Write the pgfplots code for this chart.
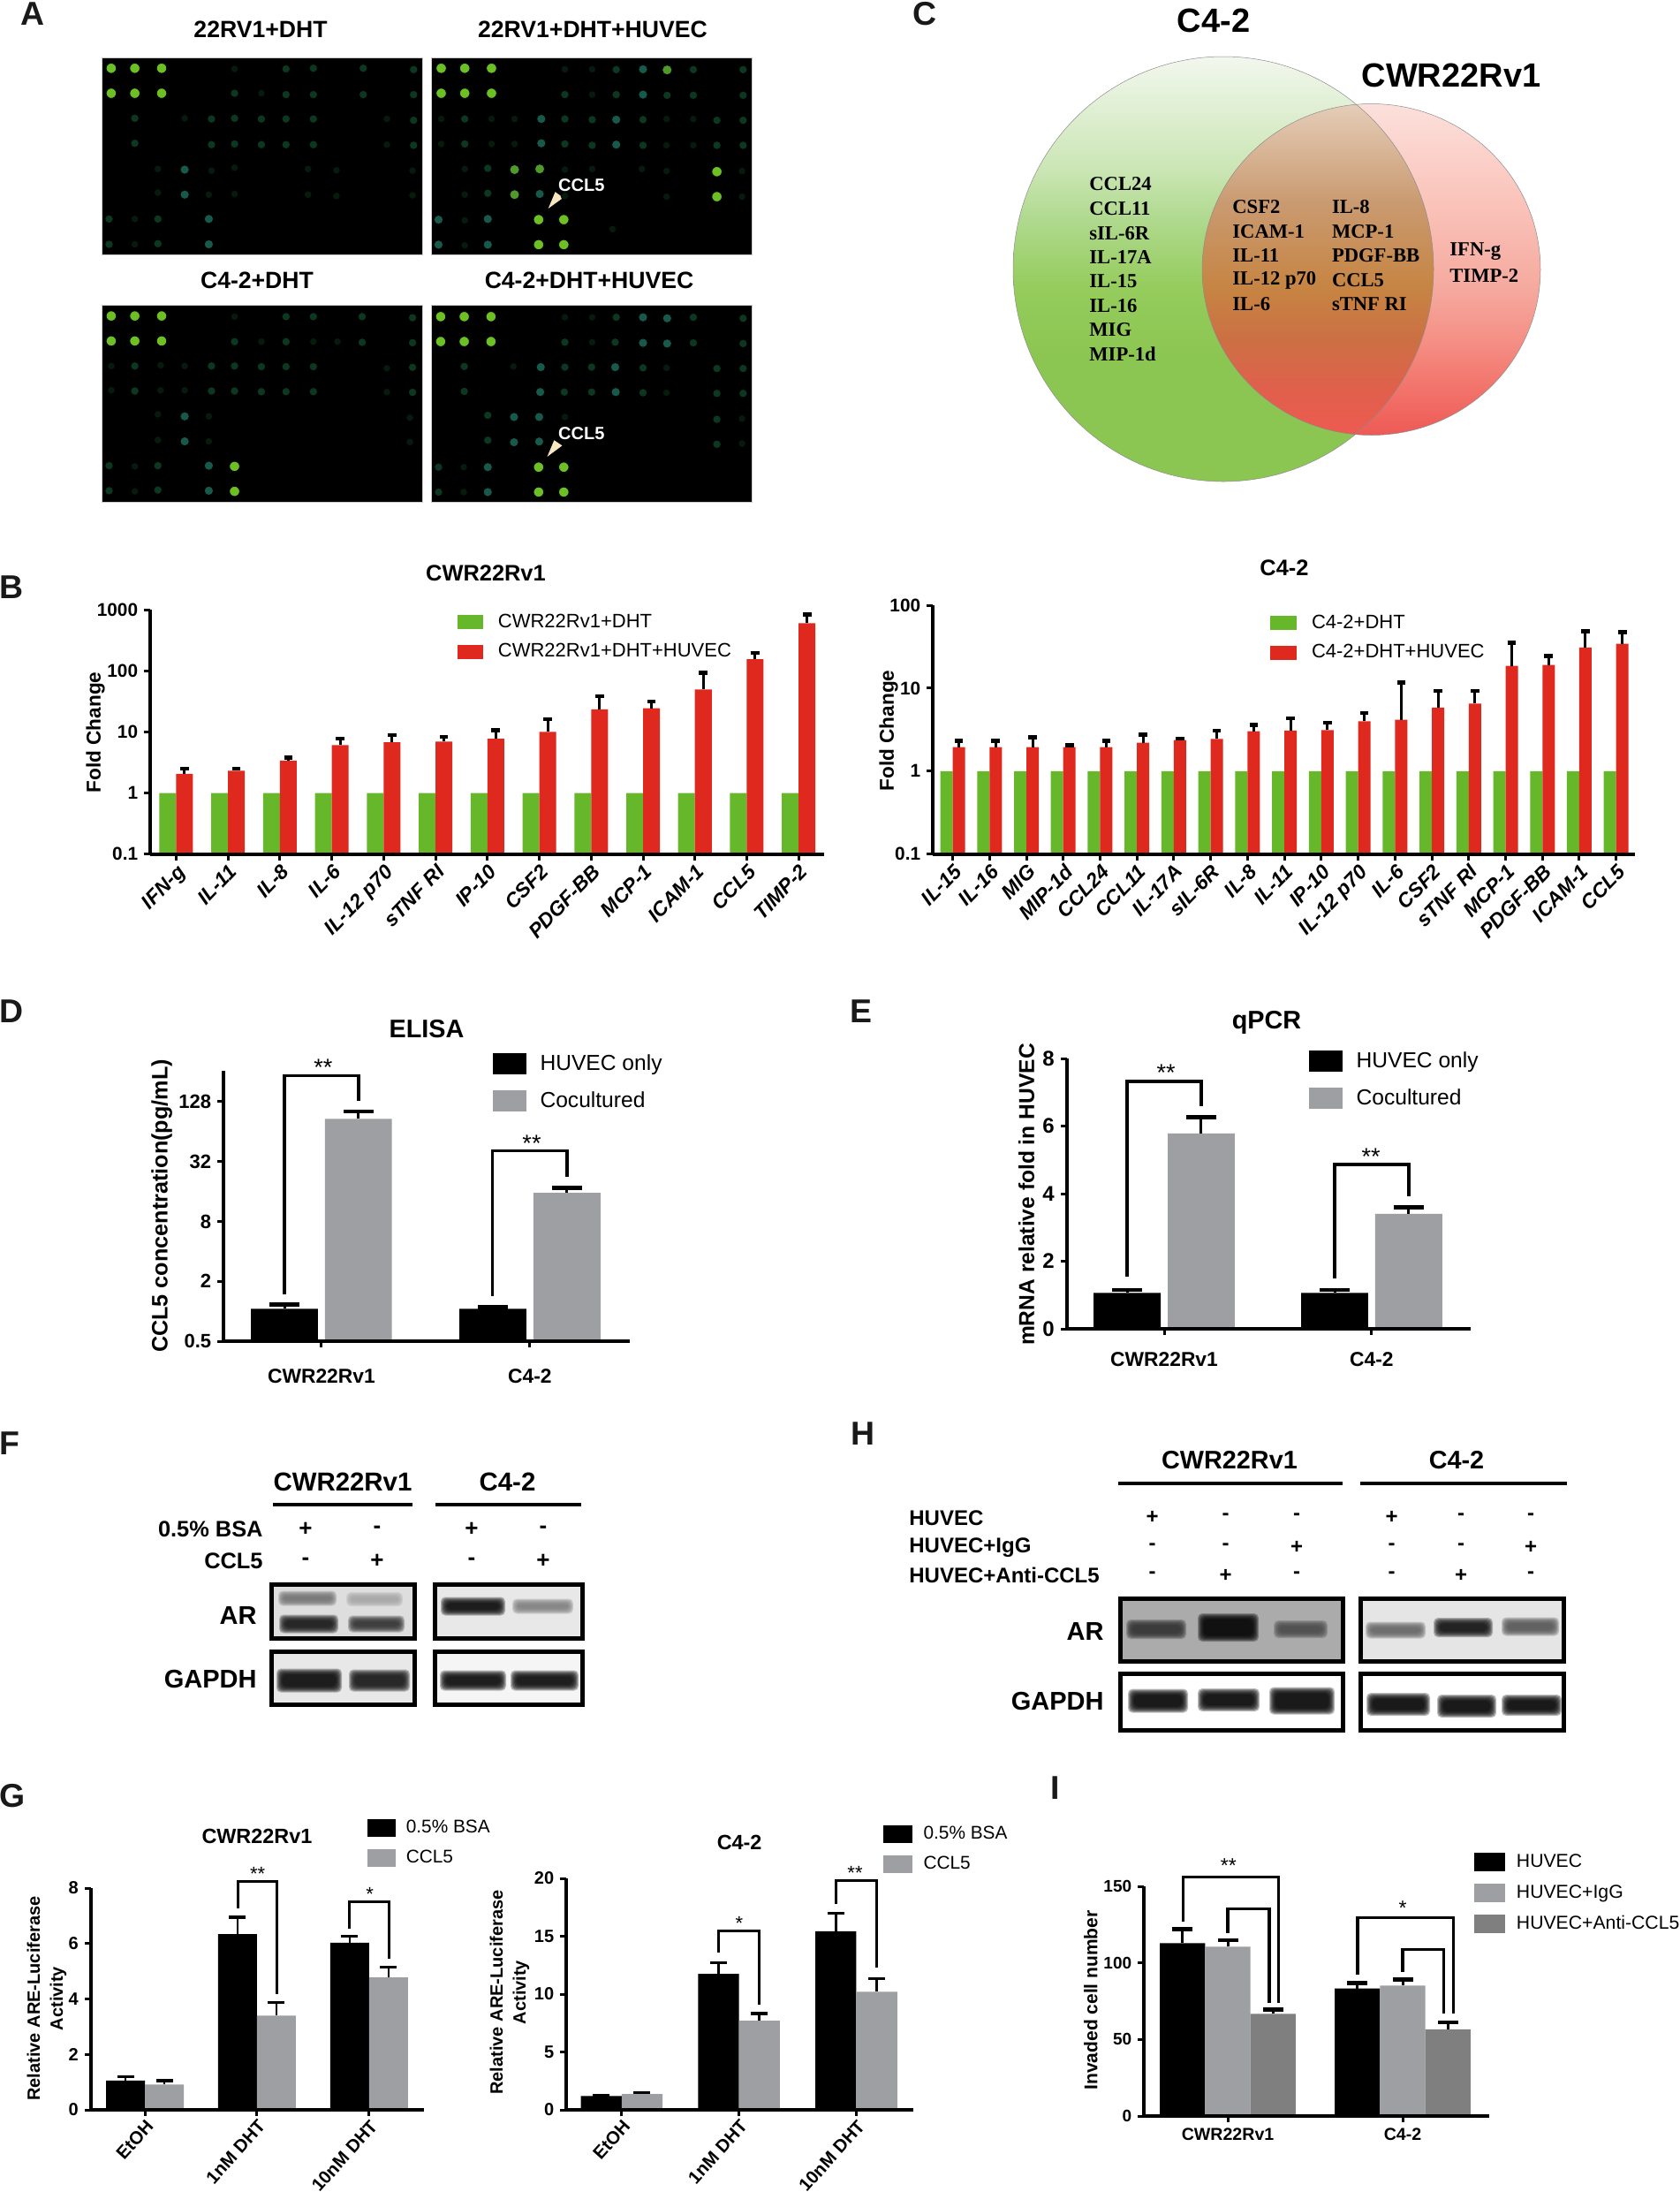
\documentclass[border=0pt]{standalone}
\usepackage{fontspec}
\setmainfont{Liberation Sans}
\newfontfamily\tnr{Liberation Serif}
\usepackage{pgfplots}
\pgfplotsset{compat=1.18}
\newcommand\F[1]{\fontsize{#1}{#1}\selectfont}
\definecolor{gbar}{HTML}{66B82A}
\definecolor{rbar}{HTML}{E0291E}
\definecolor{gry}{HTML}{9D9FA2}
\definecolor{dgry}{HTML}{7F7F7F}
\definecolor{sb}{HTML}{6CC024}
\definecolor{ss}{HTML}{4F9A2A}
\definecolor{sm}{HTML}{17594A}
\definecolor{sd}{HTML}{0C3720}
\definecolor{sf}{HTML}{061A0D}
\definecolor{cream}{HTML}{F6E7BF}
\definecolor{vg0}{HTML}{8CC652}\definecolor{vg1}{HTML}{95CC5C}\definecolor{vg2}{HTML}{AFD98E}\definecolor{vg3}{HTML}{CBE6B5}\definecolor{vg4}{HTML}{F2F7EE}
\definecolor{vr0}{HTML}{EE5A55}\definecolor{vr1}{HTML}{F2736B}\definecolor{vr2}{HTML}{F59086}\definecolor{vr3}{HTML}{F5A99E}\definecolor{vr4}{HTML}{FAC3BA}\definecolor{vr5}{HTML}{FCE0DB}
\definecolor{vo0}{HTML}{EE5A50}\definecolor{vo1}{HTML}{E0604C}\definecolor{vo2}{HTML}{CC7044}\definecolor{vo3}{HTML}{C68442}\definecolor{vo4}{HTML}{C99A70}\definecolor{vo5}{HTML}{E5CDB8}
\pgfdeclareverticalshading{vgs}{100bp}{color(0bp)=(vg0);color(39.8bp)=(vg0);color(47.8bp)=(vg1);color(55.8bp)=(vg2);color(61.8bp)=(vg3);color(75bp)=(vg4);color(100bp)=(vg4)}
\pgfdeclareverticalshading{vrs}{100bp}{color(0bp)=(vr0);color(25bp)=(vr0);color(32bp)=(vr1);color(39.5bp)=(vr2);color(47bp)=(vr3);color(60bp)=(vr4);color(75bp)=(vr5);color(100bp)=(vr5)}
\pgfdeclareverticalshading{vos}{100bp}{color(0bp)=(vo0);color(25bp)=(vo0);color(32bp)=(vo1);color(39.5bp)=(vo2);color(47bp)=(vo3);color(60bp)=(vo4);color(75bp)=(vo5);color(100bp)=(vo5)}
\pgfplotsset{
 every axis title shift=0pt,
 base/.style={scale only axis,anchor=south west,axis lines=left,axis line style={-,line width=2pt},
  tick align=outside,major tick length=3.4pt,tick style={black,line width=1.5pt},
  axis on top,clip=false,minor tick num=0,minor tick length=0pt},
 titl/.style n args={3}{title style={at={(axis description cs:#1,#2)},anchor=center,inner sep=0pt,yshift=0pt,font=\F{#3}\bfseries}},
 ylab/.style n args={3}{ylabel style={at={(axis description cs:#1,#2)},anchor=center,inner sep=0pt,align=center,font=\F{#3}\bfseries}},
 leg/.style n args={7}{legend style={at={(axis description cs:#1,#2)},anchor=north west,draw=none,fill=none,inner sep=0pt,outer sep=0pt,
   font=\F{#3},row sep=#4,cells={anchor=west},nodes={inner sep=0pt},/tikz/every odd column/.append style={column sep=#5}},
   legend image code/.code={\path[##1,draw=none] (0pt,{-0.5*#7}) rectangle (#6,{0.5*#7});}},
 blot/.style={scale only axis,anchor=south west,width=181.5pt,height=111.5pt,y dir=reverse,ticks=none,
   axis line style={draw=gray!40,line width=0.4pt},axis background/.style={fill=black},clip=false},
 spb/.style={only marks,mark=*,mark size=2.9pt,mark options={draw=none,fill=sb}},
 sps/.style={only marks,mark=*,mark size=2.8pt,mark options={draw=none,fill=ss}},
 spm/.style={only marks,mark=*,mark size=2.6pt,mark options={draw=none,fill=sm}},
 spd/.style={only marks,mark=*,mark size=2.4pt,mark options={draw=none,fill=sd}},
 spf/.style={only marks,mark=*,mark size=2.2pt,mark options={draw=none,fill=sf}},
 errB/.style={error bars/.cd,y dir=plus,y explicit,error bar style={black,line width=1.5pt},
   error mark options={black,line width=2.2pt,mark size=2.4pt,rotate=90}},
 errD/.style={error bars/.cd,y dir=plus,y explicit,error bar style={black,line width=1.5pt},
   error mark options={black,line width=2.4pt,mark size=8.5pt,rotate=90}},
 errG/.style={error bars/.cd,y dir=plus,y explicit,error bar style={black,line width=1.3pt},
   error mark options={black,line width=1.7pt,mark size=4.75pt,rotate=90}},
 errI/.style={error bars/.cd,y dir=plus,y explicit,error bar style={black,line width=1.5pt},
   error mark options={black,line width=2.3pt,mark size=5.75pt,rotate=90}},
}
\newcommand\band[5]{% x0 x1 yc h black%
 \foreach \k in {0,...,7}{\fill[black!#5,opacity=.27,rounded corners=2.5pt]
   ({#1-7+\k},{#3-#4/2-7+\k}) rectangle ({#2+7-\k},{#3+#4/2+7-\k});}}
\newcommand\wbox[5]{\draw[line width=2.5pt,fill=#5] ({#1+2.5},{#2+2.5}) rectangle ({#3-2.5},{#4-2.5});}
\begin{document}
\begin{tikzpicture}
\useasboundingbox (0pt,0pt) rectangle (951pt,-1240.5pt);
\fill[white] (0pt,0pt) rectangle (951pt,-1240.5pt);
% ===== Panel A =====
\begin{axis}[blot,at={(57.5pt,-144pt)},xmin=190,xmax=788,ymin=170,ymax=753]
\addplot[spb] coordinates {(208,202)(252,202)(302,202)(208,276)(252,276)(302,276)};
\addplot[spm] coordinates {(345,502)(345,576)(390,648)(390,723)};
\addplot[spd] coordinates {(585,202)(678,202)(772,206)(534,204)(438,276)(534,280)(585,280)(678,280)(772,280)
 (252,350)(395,352)(438,350)(488,352)(534,352)(585,352)(772,356)(252,424)(395,428)(438,426)(488,428)(534,428)(585,428)(772,430)
 (204,648)(295,648)(204,723)(295,721)};
\addplot[spf] coordinates {(438,204)(488,276)(345,350)(722,352)(722,428)(295,500)(395,505)(438,496)(575,500)(628,504)(770,505)
 (295,570)(390,576)(438,574)(575,576)(628,580)(770,578)(252,648)(252,723)};
\end{axis}
\begin{axis}[blot,at={(244pt,-144pt)},xmin=806,xmax=1405,ymin=170,ymax=753]
\addplot[spb] coordinates {(825,202)(869,202)(919,202)(825,276)(869,276)(919,276)(1340,508)(1340,582)(1007,650)(1054,650)(1007,724)(1054,724)};
\addplot[sps] coordinates {(962,502)(962,576)(1009,500)(1247,207)};
\addplot[spm] coordinates {(1202,205)(1202,280)(1012,352)(1152,354)(1012,424)(1152,428)(1009,574)(820,650)(912,648)(820,724)(912,724)};
\addplot[spd] coordinates {(1152,206)(1296,206)(1389,206)(1056,280)(1152,280)(1247,282)(1296,282)(1389,282)
 (869,352)(1056,352)(1107,354)(1202,354)(1340,356)(1389,356)(869,426)(1056,426)(1107,430)(1202,430)(1340,430)(1389,430)(912,498)(912,572)};
\addplot[spf] coordinates {(1056,205)(1107,205)(1107,280)(825,352)(919,352)(962,352)(1246,352)(1296,352)(825,426)(919,426)(962,426)(1246,430)(1296,430)
 (869,500)(1056,502)(1107,500)(1200,500)(1246,506)(1387,506)(869,576)(1056,580)(1246,582)(1387,582)(869,652)(869,726)(1145,678)};
\fill[cream] (axis cs:1025,617)--(axis cs:1038,568)--(axis cs:1053,585)--cycle;
\node[white,font=\F{10}\bfseries,inner sep=0pt] at (axis cs:1087,548) {CCL5};
\end{axis}
\begin{axis}[blot,at={(57.5pt,-284pt)},xmin=190,xmax=788,ymin=902,ymax=1485]
\addplot[spb] coordinates {(208,935)(252,935)(302,935)(208,1009)(252,1009)(302,1009)(438,1380)(438,1454)};
\addplot[spm] coordinates {(345,1232)(345,1306)(390,1378)(390,1452)};
\addplot[spd] coordinates {(534,937)(585,937)(676,937)(770,940)(438,1011)(534,1011)(676,1013)(770,1014)
 (252,1083)(395,1083)(438,1083)(488,1085)(534,1085)(585,1085)(770,1087)(252,1157)(395,1157)(438,1157)(488,1159)(534,1159)(585,1159)(770,1161)
 (204,1378)(295,1378)(204,1452)(295,1450)};
\addplot[spf] coordinates {(438,937)(488,1011)(585,1011)(630,1011)(208,1083)(300,1081)(345,1083)(722,1090)(208,1155)(300,1155)(345,1155)(722,1160)
 (295,1226)(390,1232)(765,1236)(295,1302)(390,1306)(765,1308)(252,1380)(252,1454)};
\end{axis}
\begin{axis}[blot,at={(244pt,-284pt)},xmin=806,xmax=1405,ymin=900,ymax=1485]
\addplot[spb] coordinates {(824,935)(868,935)(918,935)(824,1009)(868,1009)(918,1009)(1007,1382)(1054,1382)(1007,1456)(1054,1456)};
\addplot[spm] coordinates {(1202,937)(1247,940)(1202,1013)(1247,1015)(1011,1085)(1150,1085)(1010,1159)(1151,1159)(961,1233)(1008,1233)(961,1308)(1008,1306)(912,1382)(912,1456)};
\addplot[spd] coordinates {(1152,937)(1296,937)(1389,940)(1056,1011)(1150,1011)(1296,1013)(1389,1015)(868,1083)(1056,1085)(1106,1085)(1202,1087)(1340,1089)(1389,1089)
 (868,1157)(1055,1159)(1106,1159)(1202,1161)(1340,1163)(1389,1163)(912,1228)(912,1302)(1340,1240)(1340,1314)(820,1382)(820,1456)};
\addplot[spf] coordinates {(1056,937)(1107,937)(1107,1011)(960,1083)(1246,1087)(1246,1161)(1056,1233)(1387,1238)(1387,1312)(867,1382)(867,1456)};
\fill[cream] (axis cs:1023,1351)--(axis cs:1036,1302)--(axis cs:1051,1318)--cycle;
\node[white,font=\F{10}\bfseries,inner sep=0pt] at (axis cs:1087,1281) {CCL5};
\end{axis}
% ===== Panel B left =====
\begin{axis}[base,at={(85pt,-483.35pt)},width=381.5pt,height=138.35pt,ymode=log,log origin=infty,
 ybar=0pt,bar width=9.5pt,xmin=-0.5,xmax=12.49,ymin=0.1,ymax=1000,
 ytick={0.1,1,10,100,1000},yticklabels={0.1,1,10,100,1000},
 yticklabel style={font=\F{10.4}\bfseries},
 xtick={0,...,12},xticklabels={IFN-g,IL-11,IL-8,IL-6,IL-12 p70,sTNF RI,IP-10,CSF2,PDGF-BB,MCP-1,ICAM-1,CCL5,TIMP-2},
 xticklabel style={rotate=46,anchor=north east,font=\F{11.5}\bfseries\itshape,inner sep=1pt},
 title={CWR22Rv1},titl={.498}{1.148}{12.7},ylabel={Fold Change},ylab={-.0813}{.4977}{11.3},
 leg={.456}{.982}{11}{7.5pt}{8.5pt}{14.5pt}{8pt}]
\addplot[fill=gbar,draw=none] coordinates {(0,1)(1,1)(2,1)(3,1)(4,1)(5,1)(6,1)(7,1)(8,1)(9,1)(10,1)(11,1)(12,1)};
\addplot[fill=rbar,draw=none,errB] coordinates {(0,2.05)+=(0,.43)(1,2.32)+=(0,.16)(2,3.39)+=(0,.40)(3,6.05)+=(0,1.75)(4,6.77)+=(0,2.08)(5,6.92)+=(0,1.38)
 (6,7.74)+=(0,2.86)(7,10)+=(0,6)(8,23.3)+=(0,14.7)(9,24.4)+=(0,6.8)(10,49.3)+=(0,43.7)(11,155)+=(0,41)(12,599)+=(0,234)};
\legend{CWR22Rv1+DHT,CWR22Rv1+DHT+HUVEC}
\end{axis}
% ===== Panel B right =====
\begin{axis}[base,at={(528pt,-483.35pt)},width=397.5pt,height=140.85pt,ymode=log,log origin=infty,
 ybar=0pt,bar width=7pt,xmin=-0.54,xmax=18.51,ymin=0.1,ymax=100,
 ytick={0.1,1,10,100},yticklabels={0.1,1,10,100},
 yticklabel style={font=\F{10.4}\bfseries},
 xtick={0,...,18},xticklabels={IL-15,IL-16,MIG,MIP-1d,CCL24,CCL11,IL-17A,sIL-6R,IL-8,IL-11,IP-10,IL-12 p70,IL-6,CSF2,sTNF RI,MCP-1,PDGF-BB,ICAM-1,CCL5},
 xticklabel style={rotate=46,anchor=north east,font=\F{11.5}\bfseries\itshape,inner sep=1pt},
 title={C4-2},titl={.5006}{1.149}{12.7},ylabel={Fold Change},ylab={-.0629}{.496}{11.3},
 leg={.4805}{.961}{11}{7.5pt}{8.5pt}{15pt}{8pt}]
\addplot[fill=gbar,draw=none] coordinates {(0,1)(1,1)(2,1)(3,1)(4,1)(5,1)(6,1)(7,1)(8,1)(9,1)(10,1)(11,1)(12,1)(13,1)(14,1)(15,1)(16,1)(17,1)(18,1)};
\addplot[fill=rbar,draw=none,errB] coordinates {(0,1.95)+=(0,.36)(1,1.95)+=(0,.36)(2,1.95)+=(0,.60)(3,1.95)+=(0,.10)(4,1.95)+=(0,.36)(5,2.2)+=(0,.56)(6,2.37)+=(0,.08)
 (7,2.44)+=(0,.64)(8,3.02)+=(0,.60)(9,3.08)+=(0,1.25)(10,3.13)+=(0,.73)(11,3.99)+=(0,1.03)(12,4.16)+=(0,7.54)(13,5.82)+=(0,3.48)(14,6.53)+=(0,2.77)
 (15,18.6)+=(0,16.7)(16,19.1)+=(0,5.3)(17,31)+=(0,17.6)(18,34.4)+=(0,13)};
\legend{C4-2+DHT,C4-2+DHT+HUVEC}
\end{axis}
% ===== Panel D =====
\begin{axis}[base,at={(126.5pt,-759pt)},width=230pt,height=153pt,ymode=log,log basis y=2,log origin=infty,
 ybar=4pt,bar width=37.9pt,xmin=-0.47,xmax=1.479,ymin=0.5,ymax=261,
 ytick={0.5,2,8,32,128},yticklabels={0.5,2,8,32,128},yticklabel style={font=\F{11}\bfseries},
 xtick={0,1},xticklabels={CWR22Rv1,C4-2},xticklabel style={font=\F{11.4}\bfseries,yshift=-9pt},
 title={ELISA},titl={.5}{1.1536}{14.4},ylabel={CCL5 concentration(pg/mL)},ylab={-.152}{.5}{12.6},
 leg={.662}{1.065}{12.3}{8.8pt}{8pt}{19pt}{12pt}]
\addplot[fill=black,draw=none,errD] coordinates {(0,1.06)+=(0,.11)(1,1.06)+=(0,.04)};
\addplot[fill=gry,draw=none,errD] coordinates {(0,86)+=(0,16)(1,15.5)+=(0,1.9)};
\legend{HUVEC only,Cocultured}
\end{axis}
% ===== Panel E =====
\begin{axis}[base,at={(603.8pt,-752pt)},width=228.7pt,height=153pt,
 ybar=4pt,bar width=37.9pt,xmin=-0.47,xmax=1.477,ymin=0,ymax=8,
 ytick={0,2,4,6,8},yticklabels={0,2,4,6,8},yticklabel style={font=\F{12}\bfseries},
 xtick={0,1},xticklabels={CWR22Rv1,C4-2},xticklabel style={font=\F{11.4}\bfseries,yshift=-6.5pt},
 title={qPCR},titl={.495}{1.134}{14.4},ylabel={mRNA relative fold in HUVEC},ylab={-.0997}{.4967}{12.3},
 leg={.599}{1.029}{12.3}{9pt}{8pt}{19pt}{12pt}]
\addplot[fill=black,draw=none,errD] coordinates {(0,1.06)+=(0,.09)(1,1.06)+=(0,.09)};
\addplot[fill=gry,draw=none,errD] coordinates {(0,5.78)+=(0,.48)(1,3.40)+=(0,.2)};
\legend{HUVEC only,Cocultured}
\end{axis}
% ===== Panel G left =====
\begin{axis}[base,at={(51.3pt,-1194pt)},width=188.7pt,height=125.5pt,
 ybar=0pt,bar width=22pt,xmin=-0.4843,xmax=2.49,ymin=0,ymax=8,
 ytick={0,2,4,6,8},yticklabels={0,2,4,6,8},yticklabel style={font=\F{10}\bfseries},
 xtick={0,1,2},xticklabels={EtOH,1nM DHT,10nM DHT},xticklabel style={rotate=48,anchor=north east,font=\F{10.2}\bfseries,inner sep=1pt},
 title={CWR22Rv1},titl={.499}{1.235}{11.7},ylabel={Relative ARE-Luciferase\\[3pt]Activity},ylab={-.1314}{.502}{10},
 leg={.830}{1.311}{10.4}{6.8pt}{6pt}{16pt}{10pt}]
\addplot[fill=black,draw=none,errG] coordinates {(0,1.06)+=(0,.14)(1,6.34)+=(0,.61)(2,6.03)+=(0,.24)};
\addplot[fill=gry,draw=none,errG] coordinates {(0,.91)+=(0,.14)(1,3.4)+=(0,.48)(2,4.78)+=(0,.37)};
\legend{0.5\% BSA,CCL5}
\end{axis}
% ===== Panel G right =====
\begin{axis}[base,at={(320.5pt,-1194pt)},width=196.5pt,height=131pt,
 ybar=0pt,bar width=23.15pt,xmin=-0.4729,xmax=2.486,ymin=0,ymax=20,
 ytick={0,5,10,15,20},yticklabels={0,5,10,15,20},yticklabel style={font=\F{10}\bfseries},
 xtick={0,1,2},xticklabels={EtOH,1nM DHT,10nM DHT},xticklabel style={rotate=48,anchor=north east,font=\F{10.2}\bfseries,inner sep=1pt},
 title={C4-2},titl={.499}{1.156}{11.7},ylabel={Relative ARE-Luciferase\\[3pt]Activity},ylab={-.163}{.5076}{10},
 leg={.9135}{1.229}{10.4}{7pt}{6.3pt}{16.5pt}{10pt}]
\addplot[fill=black,draw=none,errG] coordinates {(0,1.19)+=(0,.08)(1,11.74)+=(0,.99)(2,15.43)+=(0,1.55)};
\addplot[fill=gry,draw=none,errG] coordinates {(0,1.37)+=(0,.10)(1,7.7)+=(0,.61)(2,10.2)+=(0,1.13)};
\legend{0.5\% BSA,CCL5}
\end{axis}
% ===== Panel I =====
\begin{axis}[base,at={(647.5pt,-1197.5pt)},width=195.5pt,height=130pt,
 ybar=0pt,bar width=25.65pt,xmin=-0.48,xmax=1.495,ymin=0,ymax=150,
 ytick={0,50,100,150},yticklabels={0,50,100,150},yticklabel style={font=\F{9.5}\bfseries},
 xtick={0,1},xticklabels={CWR22Rv1,C4-2},xticklabel style={font=\F{9.8}\bfseries},
 ylabel={Invaded cell number},ylab={-.1535}{.504}{10.5},
 leg={.9575}{1.146}{10.6}{7pt}{6.3pt}{17.5pt}{10.5pt}]
\addplot[fill=black,draw=none,errI] coordinates {(0,112.9)+=(0,9)(1,83.3)+=(0,3.6)};
\addplot[fill=gry,draw=none,errI] coordinates {(0,110.6)+=(0,4.2)(1,85.2)+=(0,3.8)};
\addplot[fill=dgry,draw=none,errI] coordinates {(0,66.7)+=(0,2.7)(1,56.7)+=(0,4.5)};
\legend{HUVEC,HUVEC+IgG,HUVEC+Anti-CCL5}
\end{axis}
% ===== Annotations in pixel coordinates =====
\begin{scope}[x=0.5pt,y=-0.5pt]
\tikzset{lett/.style={font=\F{18.7}\bfseries,inner sep=0pt,text=black!90},
 tb/.style={font=\F{#1}\bfseries,inner sep=0pt},
 br/.style={line width=1.7pt},
 st/.style={font=\F{#1},inner sep=0pt}}
\node[lett] at (37.5,16) {A};\node[lett] at (1047,16) {C};\node[lett] at (13,665) {B};
\node[lett] at (13,1145) {D};\node[lett] at (975,1145) {E};\node[lett] at (11,1634) {F};
\node[lett] at (977,1623) {H};\node[lett] at (14.5,2033) {G};\node[lett] at (1194.6,2024) {I};
% A titles
\node[tb=13.3] at (295,33) {22RV1+DHT};\node[tb=13.3] at (671,33) {22RV1+DHT+HUVEC};
\node[tb=13.3] at (291,317) {C4-2+DHT};\node[tb=13.3] at (667,317) {C4-2+DHT+HUVEC};
% C venn
\node[tb=19] at (1374,23) {C4-2};\node[tb=19] at (1643,85) {CWR22Rv1};
\shade[shading=vgs] (1385,304.5) ellipse [x radius=238,y radius=240.5];
\shade[shading=vrs] (1552.5,305) ellipse [x radius=191.5,y radius=187.5];
\begin{scope}
\clip (1385,304.5) ellipse [x radius=238,y radius=240.5];
\shade[shading=vos] (1552.5,305) ellipse [x radius=191.5,y radius=187.5];
\end{scope}
\draw[black!45,line width=.25pt] (1385,304.5) ellipse [x radius=238,y radius=240.5];
\draw[black!45,line width=.25pt] (1552.5,305) ellipse [x radius=191.5,y radius=187.5];
\tikzset{vt/.style={font=\F{11.3}\tnr\bfseries,inner sep=0pt,anchor=west}}
\node[vt] at (1233,208.6) {CCL24};\node[vt] at (1233,236) {CCL11};\node[vt] at (1233,263.7) {sIL-6R};\node[vt] at (1233,291) {IL-17A};
\node[vt] at (1233,318.4) {IL-15};\node[vt] at (1233,346) {IL-16};\node[vt] at (1233,373) {MIG};\node[vt] at (1233,401) {MIP-1d};
\node[vt] at (1395,234) {CSF2};\node[vt] at (1395,262) {ICAM-1};\node[vt] at (1395,289) {IL-11};\node[vt] at (1395,317) {IL-12 p70};\node[vt] at (1395,344) {IL-6};
\node[vt] at (1507.6,234) {IL-8};\node[vt] at (1507.6,262) {MCP-1};\node[vt] at (1507.6,289) {PDGF-BB};\node[vt] at (1507.6,317) {CCL5};\node[vt] at (1507.6,344) {sTNF RI};
\node[vt] at (1641,285) {IFN-g};\node[vt] at (1641,312) {TIMP-2};
% D brackets
\draw[br] (322,1465)--(322,1217.7)--(406,1217.7)--(406,1246);
\draw[br] (557.6,1466.7)--(557.6,1302.7)--(642,1302.7)--(642,1331.7);
\node[st=13.5] at (366,1208) {**};\node[st=13.5] at (602,1294) {**};
% E brackets
\draw[br] (1276,1445)--(1276,1224)--(1360,1224)--(1360,1251.7);
\draw[br] (1511,1446.7)--(1511,1318)--(1595,1318)--(1595,1354);
\node[st=13.5] at (1320,1214) {**};\node[st=13.5] at (1552,1309) {**};
% F
\node[tb=14.7] at (388,1677) {CWR22Rv1};\node[tb=14.7] at (574.5,1677) {C4-2};
\fill (309,1700.6) rectangle (467,1705.4);\fill (493,1700.6) rectangle (658,1705.4);
\node[tb=12.7,anchor=east] at (298,1731) {0.5\% BSA};\node[tb=12.7,anchor=east] at (298,1767) {CCL5};
\foreach \x/\a/\b in {346/+/-,427/-/+,534/+/-,615/-/+}{\node[tb=13] at (\x,1731) {\a};\node[tb=13] at (\x,1767) {\b};}
\node[tb=14.5,anchor=east] at (291,1828) {AR};\node[tb=14.5,anchor=east] at (291,1900) {GAPDH};
\wbox{305}{1791}{471.5}{1857}{black!13}\wbox{490}{1791}{662}{1857}{black!9}
\wbox{305}{1867}{471.5}{1932}{black!9}\wbox{490}{1867}{662}{1932}{black!4}
\band{322}{374}{1809}{3}{55}\band{399}{449}{1810}{2}{35}\band{323}{376}{1838}{7}{90}\band{401}{451}{1838}{5}{80}
\band{506}{565}{1818}{7}{95}\band{587}{642}{1818}{3}{50}
\band{320}{380}{1902}{13}{95}\band{402}{457}{1902}{11}{90}\band{505}{566}{1902}{9}{95}\band{585}{648}{1902}{9}{95}
% H
\node[tb=14.4] at (1392,1653) {CWR22Rv1};\node[tb=14.4] at (1649,1653) {C4-2};
\fill (1266,1677) rectangle (1520,1681);\fill (1540,1677) rectangle (1774,1681);
\node[tb=12,anchor=west] at (1029,1718) {HUVEC};\node[tb=12,anchor=west] at (1029,1752) {HUVEC+IgG};\node[tb=12,anchor=west] at (1029,1783) {HUVEC+Anti-CCL5};
\foreach \x/\a/\b/\c in {1304.5/+/-/-,1387.6/-/-/+,1468/-/+/-,1575.5/+/-/-,1654/-/-/+,1733/-/+/-}{\node[tb=12] at (\x,1717) {\a};\node[tb=12] at (\x,1751) {\b};\node[tb=12] at (\x,1783) {\c};}
\node[tb=14.5,anchor=east] at (1250,1846) {AR};\node[tb=14.5,anchor=east] at (1250,1925) {GAPDH};
\wbox{1266}{1807}{1523}{1883}{black!33}\wbox{1538}{1807}{1773}{1883}{black!10}
\wbox{1266}{1892}{1523}{1961}{white}\wbox{1538}{1892}{1773}{1961}{white}
\band{1282}{1336}{1844}{8}{80}\band{1363}{1418}{1842}{18}{98}\band{1449}{1496}{1844}{6}{70}
\band{1553}{1607}{1845}{5}{60}\band{1630}{1683}{1842}{8}{92}\band{1707}{1758}{1841}{7}{65}
\band{1284}{1338}{1925}{13}{97}\band{1363}{1419}{1924}{12}{97}\band{1444}{1504}{1925}{17}{97}
\band{1554}{1612}{1929}{12}{97}\band{1634}{1687}{1931}{12}{97}\band{1707}{1761}{1930}{10}{97}
% G brackets
\tikzset{brg/.style={line width=1.5pt}}
\draw[brg] (269,2160)--(269,2129)--(313,2129)--(313,2257);
\draw[brg] (395.7,2183)--(395.7,2152)--(440,2152)--(440,2217);
\node[st=11] at (291.6,2121) {**};\node[st=11] at (418.7,2144) {*};
\draw[brg] (813.3,2210)--(813.3,2185)--(859,2185)--(859,2269);
\draw[brg] (946.5,2155)--(946.5,2128)--(992.4,2128)--(992.4,2227);
\node[st=11] at (837,2177) {*};\node[st=11] at (968,2120) {**};
% I brackets
\draw[br] (1339.4,2175)--(1339.4,2124.7)--(1447.4,2124.7)--(1447.4,2266.7);
\draw[br] (1390,2188)--(1390,2160.7)--(1436.8,2160.7)--(1436.8,2266.7);
\draw[br] (1537,2235)--(1537,2170.7)--(1645.4,2170.7)--(1645.4,2279);
\draw[br] (1588,2231.7)--(1588,2206.7)--(1634.4,2206.7)--(1634.4,2279);
\node[st=11.5] at (1390.8,2112) {**};\node[st=11.5] at (1588,2160) {*};
\end{scope}
\end{tikzpicture}
\end{document}
